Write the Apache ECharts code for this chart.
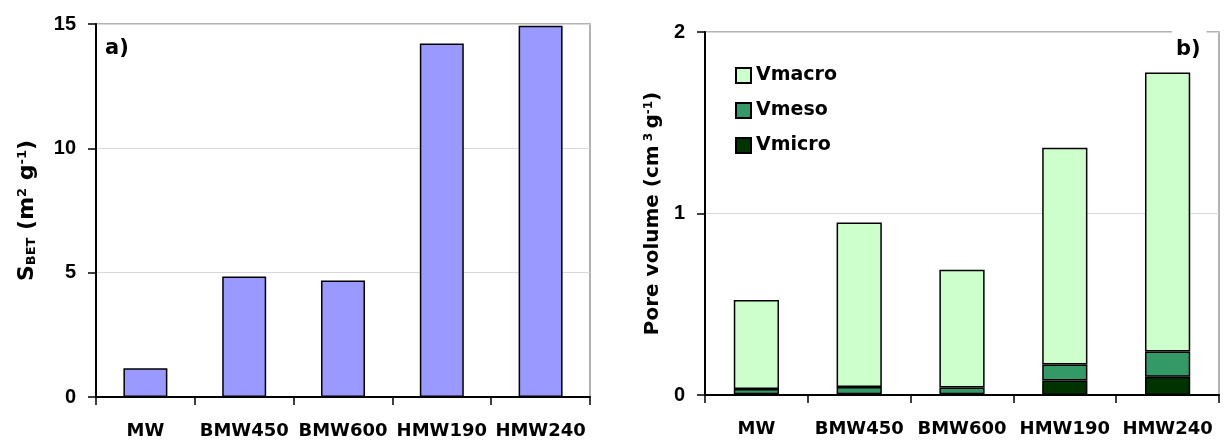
<!DOCTYPE html>
<html>
<head>
<meta charset="utf-8">
<script src="https://cdn.jsdelivr.net/npm/echarts@6/dist/echarts.min.js"></script>
<style>html,body{margin:0;padding:0;background:#fff}#c{width:1224px;height:444px}</style>
</head>
<body>
<div id="c"></div>
<script>
const categories = ['MW', 'BMW450', 'BMW600', 'HMW190', 'HMW240'];
const sbet = [1.16, 4.85, 4.69, 14.22, 14.93];
const vmicro = [0.004, 0.004, 0.004, 0.080, 0.100];
const vmeso = [0.029, 0.040, 0.038, 0.088, 0.140];
const vmacro = [0.491, 0.906, 0.648, 1.194, 1.537];
const leftTicks = [0, 5, 10, 15];
const rightTicks = [0, 1, 2];

const FONT = 'DejaVu Sans';
const chart = echarts.init(document.getElementById('c'), null, {renderer: 'canvas'});

function catAxis(gi) {
  return {
    type: 'category', gridIndex: gi, data: categories,
    axisLine: {lineStyle: {color: '#000', width: 2}},
    axisTick: {show: true, length: 8, lineStyle: {color: '#000', width: 1.5}},
    axisLabel: {interval: 0, margin: 25, color: '#000', fontFamily: FONT, fontWeight: 'bold', fontSize: 18}
  };
}
function valAxis(gi, max, interval, name, gap, fs) {
  const sfs = Math.round(fs * 0.6);
  return {
    type: 'value', gridIndex: gi, min: 0, max: max, interval: interval,
    axisLine: {show: true, lineStyle: {color: '#000', width: 2}},
    axisTick: {show: true, length: 8, lineStyle: {color: '#000', width: 1.5}},
    axisLabel: {margin: 20, color: '#000', fontFamily: 'Liberation Sans', fontWeight: 'bold', fontSize: 20},
    splitLine: {show: true, lineStyle: {color: '#d8d8d8', width: 1}},
    name: name, nameLocation: 'middle', nameGap: gap, nameRotate: 90,
    nameTextStyle: {
      color: '#000', fontFamily: FONT, fontWeight: 'bold', fontSize: fs,
      rich: {
        b: {fontFamily: FONT, fontWeight: 'bold', fontSize: fs, color: '#000'},
        sub: {fontFamily: FONT, fontWeight: 'bold', fontSize: sfs, color: '#000', verticalAlign: 'bottom', padding: [8, 0, 0, 0]},
        sup: {fontFamily: FONT, fontWeight: 'bold', fontSize: sfs, color: '#000', verticalAlign: 'top', padding: [0, 0, 8, 0]}
      }
    }
  };
}

const leftName = '{b|S}{sub|BET}{b| (m}{sup|2}{b| g}{sup|-1}{b|)}';
const rightName = '{b|Pore volume (cm}{sup| 3 }{b|g}{sup|-1}{b|)}';

const option = {
  backgroundColor: '#fff',
  animation: false,
  title: [
    {text: 'a)', left: 105, top: 38, padding: 0, textStyle: {fontFamily: FONT, fontWeight: 'bold', fontSize: 21, color: '#000'}},
    {text: 'b)', left: 1172, top: 31, padding: [8, 6, 0, 4], backgroundColor: '#fff', textStyle: {fontFamily: FONT, fontWeight: 'bold', fontSize: 21, color: '#000'}}
  ],
  grid: [
    {left: 96, top: 24, width: 494, height: 373, show: true, borderColor: '#999', borderWidth: 1.5, backgroundColor: 'transparent'},
    {left: 705, top: 32, width: 514, height: 363, show: true, borderColor: '#999', borderWidth: 1.5, backgroundColor: 'transparent'}
  ],
  legend: {
    data: ['Vmacro', 'Vmeso', 'Vmicro'],
    orient: 'vertical', left: 735, top: 66, itemWidth: 15, itemHeight: 15, itemGap: 16,
    icon: 'rect', padding: 0,
    textStyle: {fontFamily: FONT, fontWeight: 'bold', fontSize: 19, color: '#000'}
  },
  xAxis: [catAxis(0), catAxis(1)],
  yAxis: [
    valAxis(0, 15, 5, leftName, 58, 22),
    valAxis(1, 2, 1, rightName, 42, 20)
  ],
  series: [
    {type: 'bar', name: 'SBET', xAxisIndex: 0, yAxisIndex: 0, data: sbet, barWidth: '44.5%',
      itemStyle: {color: '#9999FF', borderColor: '#000', borderWidth: 1.5}},
    {type: 'bar', name: 'Vmicro', xAxisIndex: 1, yAxisIndex: 1, stack: 'pv', data: vmicro, barWidth: '44%',
      itemStyle: {color: '#003300', borderColor: '#000', borderWidth: 1.5}},
    {type: 'bar', name: 'Vmeso', xAxisIndex: 1, yAxisIndex: 1, stack: 'pv', data: vmeso, barWidth: '44%',
      itemStyle: {color: '#339966', borderColor: '#000', borderWidth: 1.5}},
    {type: 'bar', name: 'Vmacro', xAxisIndex: 1, yAxisIndex: 1, stack: 'pv', data: vmacro, barWidth: '44%',
      itemStyle: {color: '#CCFFCC', borderColor: '#000', borderWidth: 1.5}}
  ]
};
chart.setOption(option);
</script>
</body>
</html>
